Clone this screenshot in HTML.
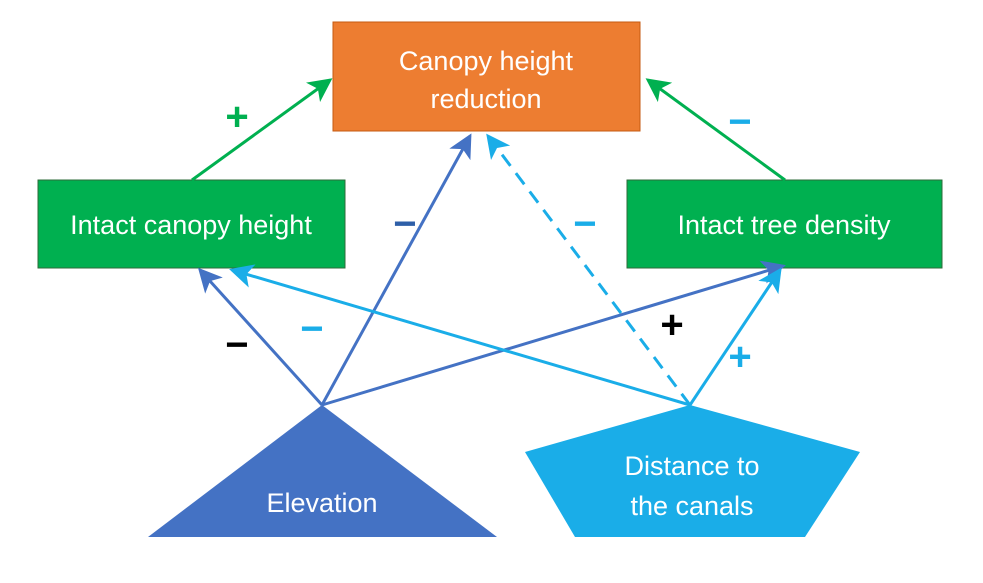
<!DOCTYPE html>
<html><head><meta charset="utf-8"><style>
body{margin:0;background:#fff;}
svg{display:block;font-family:"Liberation Sans",Arial,sans-serif;}
</style></head><body>
<svg width="983" height="583" viewBox="0 0 983 583">
<defs>
<marker id="g" markerWidth="8" markerHeight="8" refX="7" refY="4" orient="auto" markerUnits="strokeWidth"><path d="M0,0 L8,4 L0,8 L2,4 z" fill="#00B050"/></marker>
<marker id="b" markerWidth="8" markerHeight="8" refX="7" refY="4" orient="auto" markerUnits="strokeWidth"><path d="M0,0 L8,4 L0,8 L2,4 z" fill="#4472C4"/></marker>
<marker id="c" markerWidth="8" markerHeight="8" refX="7" refY="4" orient="auto" markerUnits="strokeWidth"><path d="M0,0 L8,4 L0,8 L2,4 z" fill="#1AADE8"/></marker>
</defs>
<rect x="333" y="22" width="307" height="109" fill="#ED7D31" stroke="#C55A11" stroke-width="1"/>
<text x="486" y="70" font-size="27" fill="#fff" text-anchor="middle">Canopy height</text>
<text x="486" y="108" font-size="27" fill="#fff" text-anchor="middle">reduction</text>
<rect x="38" y="180" width="307" height="88" fill="#00B050" stroke="#2E6B3A" stroke-width="1"/>
<text x="191" y="234" font-size="27" fill="#fff" text-anchor="middle">Intact canopy height</text>
<rect x="627" y="180" width="315" height="88" fill="#00B050" stroke="#2E6B3A" stroke-width="1"/>
<text x="784" y="234" font-size="27" fill="#fff" text-anchor="middle">Intact tree density</text>
<polygon points="322,405 148,537 497,537" fill="#4472C4"/>
<text x="322" y="512" font-size="27" fill="#fff" text-anchor="middle">Elevation</text>
<polygon points="690,405 860,452 805,537 575,537 525,452" fill="#1AADE8"/>
<text x="692" y="475" font-size="27" fill="#fff" text-anchor="middle">Distance to</text>
<text x="692" y="515" font-size="27" fill="#fff" text-anchor="middle">the canals</text>
<g stroke-width="3" fill="none">
<line x1="192" y1="180" x2="330" y2="80" stroke="#00B050" marker-end="url(#g)"/>
<line x1="785" y1="180" x2="648" y2="80" stroke="#00B050" marker-end="url(#g)"/>
<line x1="322" y1="405" x2="470" y2="136" stroke="#4472C4" marker-end="url(#b)"/>
<line x1="322" y1="405" x2="200" y2="270" stroke="#4472C4" marker-end="url(#b)"/>
<line x1="322" y1="405" x2="783" y2="266" stroke="#4472C4" marker-end="url(#b)"/>
<line x1="690" y1="405" x2="232" y2="270" stroke="#1AADE8" marker-end="url(#c)"/>
<line x1="690" y1="405" x2="488" y2="136" stroke="#1AADE8" stroke-dasharray="14,9" marker-end="url(#c)"/>
<line x1="690" y1="405" x2="780" y2="270" stroke="#1AADE8" marker-end="url(#c)"/>
</g>
<g font-size="40" font-weight="bold" text-anchor="middle">
<text x="237" y="130" fill="#00B050">+</text>
<text x="740" y="135" fill="#1AADE8">−</text>
<text x="405" y="237" fill="#2E5FA8">−</text>
<text x="585" y="237" fill="#1AADE8">−</text>
<text x="237" y="358" fill="#000">−</text>
<text x="312" y="342" fill="#1AADE8">−</text>
<text x="672" y="338" fill="#000">+</text>
<text x="740" y="370" fill="#1AADE8">+</text>
</g>
</svg>
</body></html>
